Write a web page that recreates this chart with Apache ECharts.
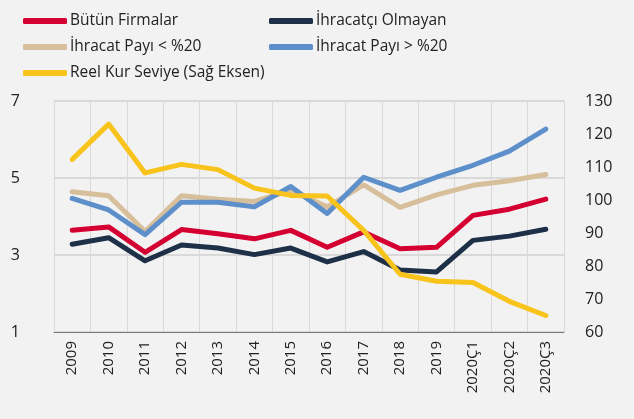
<!DOCTYPE html>
<html>
<head>
<meta charset="utf-8">
<script src="https://cdn.jsdelivr.net/npm/echarts@6/dist/echarts.min.js"></script>
<style>
  html, body { margin: 0; padding: 0; background: #f2f2f2; }
  #main { width: 634px; height: 419px; }
</style>
</head>
<body>
<div id="main"></div>
<script>
// kategoriler ve seriler
var categories = ['2009', '2010', '2011', '2012', '2013', '2014', '2015', '2016', '2017', '2018', '2019', '2020Ç1', '2020Ç2', '2020Ç3'];
var butunFirmalar = [3.64, 3.73, 3.07, 3.66, 3.55, 3.42, 3.64, 3.20, 3.60, 3.16, 3.20, 4.03, 4.19, 4.45];
var ihracatciOlmayan = [3.28, 3.45, 2.85, 3.26, 3.18, 3.01, 3.18, 2.82, 3.09, 2.61, 2.56, 3.38, 3.49, 3.67];
var payiAlti20 = [4.64, 4.54, 3.61, 4.54, 4.45, 4.39, 4.68, 4.25, 4.82, 4.24, 4.56, 4.81, 4.93, 5.09];
var payiUstu20 = [4.47, 4.17, 3.53, 4.37, 4.37, 4.25, 4.78, 4.08, 5.02, 4.68, 5.02, 5.33, 5.70, 6.27];
var reelKur = [112.3, 123.0, 108.2, 110.8, 109.2, 103.6, 101.4, 101.2, 90.8, 77.5, 75.4, 75.0, 69.3, 65.0];

var colors = ['#d50032', '#1d3047', '#d6bf9a', '#5d8fca', '#f8c31a'];
var font = '"Open Sans", "Noto Sans", sans-serif';

var chart = echarts.init(document.getElementById('main'));

function leg(name, left, top) {
  return {
    data: [name],
    left: left,
    top: top,
    icon: 'roundRect',
    itemWidth: 44,
    itemHeight: 6,
    itemGap: 0,
    textStyle: { fontFamily: font, fontSize: 15.5, color: '#222', padding: [0, 0, 0, -2] }
  };
}

function line(name, data, color, yIdx) {
  return {
    name: name,
    type: 'line',
    yAxisIndex: yIdx,
    data: data,
    symbol: 'none',
    lineStyle: { width: 5, color: color, cap: 'round', join: 'round' },
    itemStyle: { color: color }
  };
}

chart.setOption({
  backgroundColor: '#f2f2f2',
  animation: false,
  legend: [
    leg('Bütün Firmalar', 18, 8),
    leg('İhracatçı Olmayan', 264, 8),
    leg('İhracat Payı < %20', 18, 34),
    leg('İhracat Payı > %20', 264, 34),
    leg('Reel Kur Seviye (Sağ Eksen)', 18, 60)
  ],
  grid: { left: 54, right: 70, top: 101, bottom: 87 },
  xAxis: {
    type: 'category',
    data: categories,
    boundaryGap: true,
    axisLine: { lineStyle: { color: '#777', width: 1 } },
    axisTick: { show: false },
    splitLine: { show: true, interval: 0, lineStyle: { color: '#d9d9d9', width: 1 } },
    axisLabel: {
      rotate: 90,
      interval: 0,
      margin: 9,
      fontFamily: font,
      fontSize: 15,
      color: '#222'
    }
  },
  yAxis: [
    {
      type: 'value',
      min: 1,
      max: 7,
      interval: 2,
      position: 'left',
      axisLine: { show: false },
      axisTick: { show: false },
      splitLine: { lineStyle: { color: '#d9d9d9', width: 2 } },
      axisLabel: { margin: 34, fontFamily: font, fontSize: 16, color: '#222' }
    },
    {
      type: 'value',
      min: 60,
      max: 130,
      interval: 10,
      position: 'right',
      axisLine: { show: false },
      axisTick: { show: false },
      splitLine: { show: false },
      axisLabel: { margin: 21, fontFamily: font, fontSize: 16, color: '#222' }
    }
  ],
  series: [
    line('Bütün Firmalar', butunFirmalar, colors[0], 0),
    line('İhracatçı Olmayan', ihracatciOlmayan, colors[1], 0),
    line('İhracat Payı < %20', payiAlti20, colors[2], 0),
    line('İhracat Payı > %20', payiUstu20, colors[3], 0),
    line('Reel Kur Seviye (Sağ Eksen)', reelKur, colors[4], 1)
  ]
});
</script>
</body>
</html>
